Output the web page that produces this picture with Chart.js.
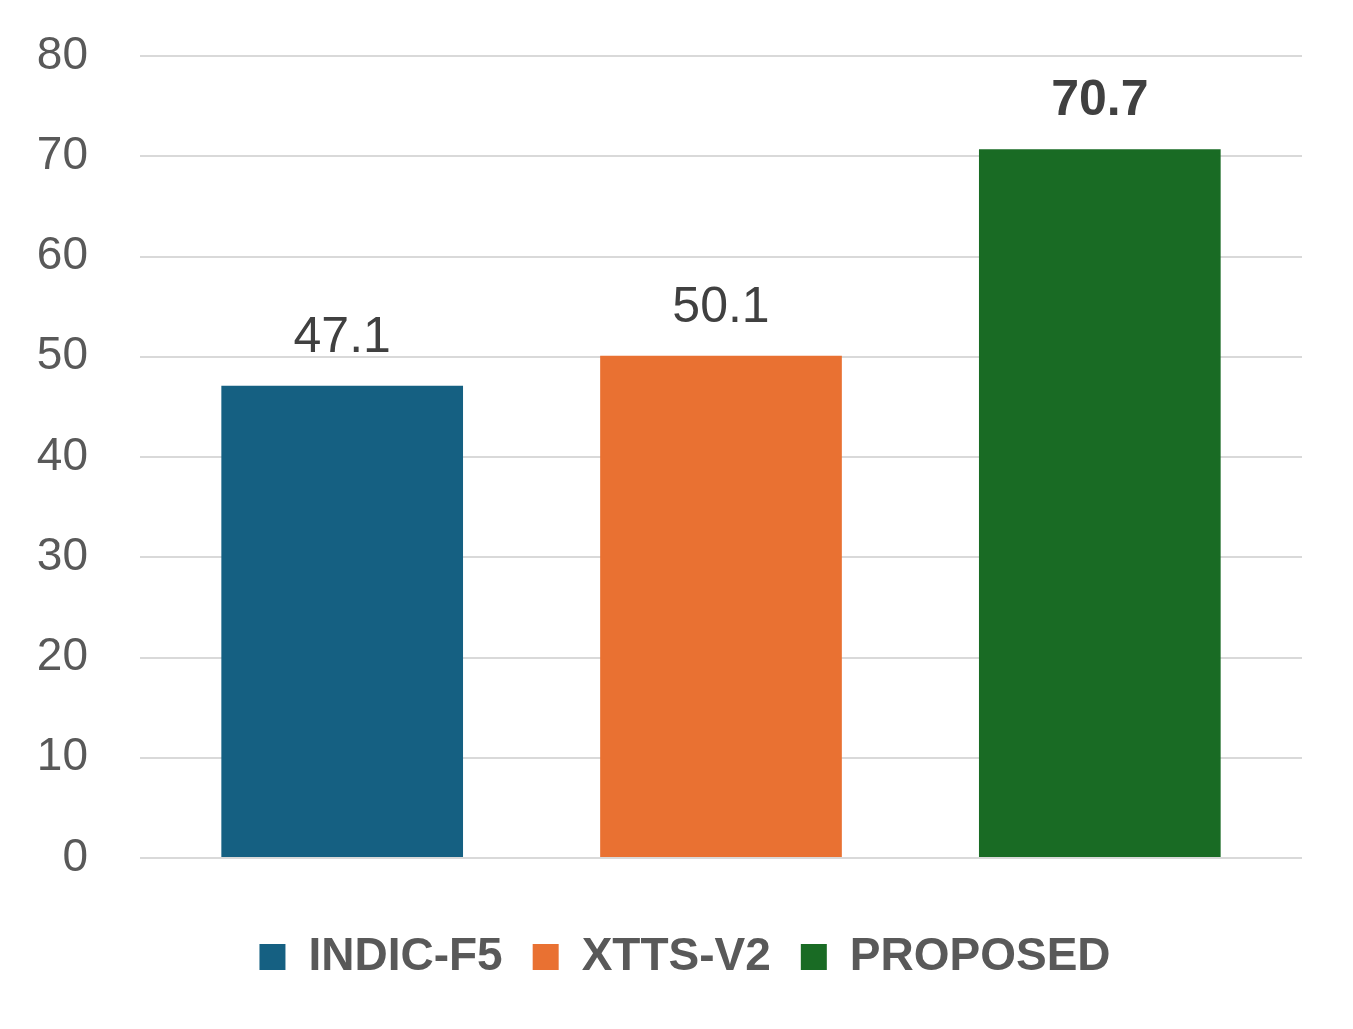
<!DOCTYPE html>
<html>
<head>
<meta charset="utf-8">
<title>Scores</title>
<script src="https://cdn.jsdelivr.net/npm/chart.js@4.4.0/dist/chart.umd.min.js"></script>
<style>
  html, body { margin: 0; padding: 0; background: #fff; }
  #wrap { width: 1353px; height: 1029px; position: relative; }
</style>
</head>
<body>
<div id="wrap"><canvas id="myChart"></canvas></div>
<script>
// values
const categories = [''];
const seriesNames = ['INDIC-F5', 'XTTS-V2', 'PROPOSED'];
const seriesValues = [47.1, 50.1, 70.7];
const seriesColors = ['#156082', '#E97132', '#196B24'];
const boldLabel = [false, false, true];
const yTicks = [0, 10, 20, 30, 40, 50, 60, 70, 80];

// value labels above each bar (no datalabels plugin offline)
const valueLabels = {
  id: 'valueLabels',
  afterDatasetsDraw(chart) {
    const ctx = chart.ctx;
    ctx.save();
    ctx.textAlign = 'center';
    ctx.textBaseline = 'alphabetic';
    chart.data.datasets.forEach((ds, i) => {
      const bar = chart.getDatasetMeta(i).data[0];
      if (!bar) return;
      ctx.font = (boldLabel[i] ? 'bold ' : '') + '50px "Liberation Sans", Arial, sans-serif';
      ctx.fillStyle = '#404040';
      ctx.fillText(ds.data[0].toFixed(1), bar.x, bar.y - 34);
    });
    ctx.restore();
  }
};

const datasets = seriesNames.map((name, i) => ({
  label: name,
  data: [seriesValues[i]],
  backgroundColor: seriesColors[i],
  borderWidth: 0,
  categoryPercentage: 0.978,
  barPercentage: 0.638,
}));

const config = {
  type: 'bar',
  data: { labels: categories, datasets: datasets },
  options: {
    responsive: true,
    maintainAspectRatio: false,
    animation: false,
    layout: { padding: { top: 56, right: 0, bottom: 39, left: 17 } },
    plugins: {
      tooltip: { enabled: false },
      legend: {
        position: 'bottom',
        labels: {
          boxWidth: 26,
          boxHeight: 26,
          padding: 30,
          color: '#595959',
          font: { family: '"Liberation Sans", Arial, sans-serif', size: 46, weight: 'bold' },
        }
      }
    },
    scales: {
      x: {
        grid: { display: false },
        border: { display: false },
        ticks: { display: false },
        afterFit(scale) { scale.height = 46; },
      },
      y: {
        min: 0,
        max: 80,
        afterBuildTicks(scale) { scale.ticks = yTicks.map(v => ({ value: v })); },
        grid: { color: '#D9D9D9', lineWidth: 2, drawTicks: false },
        border: { display: false },
        ticks: {
          padding: 52,
          color: '#595959',
          font: { family: '"Liberation Sans", Arial, sans-serif', size: 46 },
        },
        afterFit(scale) {
          scale.width = 123;
          scale.paddingTop = 0;
          scale.paddingBottom = 0;
        },
      },
      // empty right-hand spacer so the plot ends where the reference does
      yRight: {
        position: 'right',
        grid: { display: false },
        border: { display: false },
        ticks: { display: false },
        afterFit(scale) { scale.width = 51; },
      }
    }
  },
  plugins: [valueLabels]
};

const chart = new Chart(document.getElementById('myChart'), config);
</script>
</body>
</html>
